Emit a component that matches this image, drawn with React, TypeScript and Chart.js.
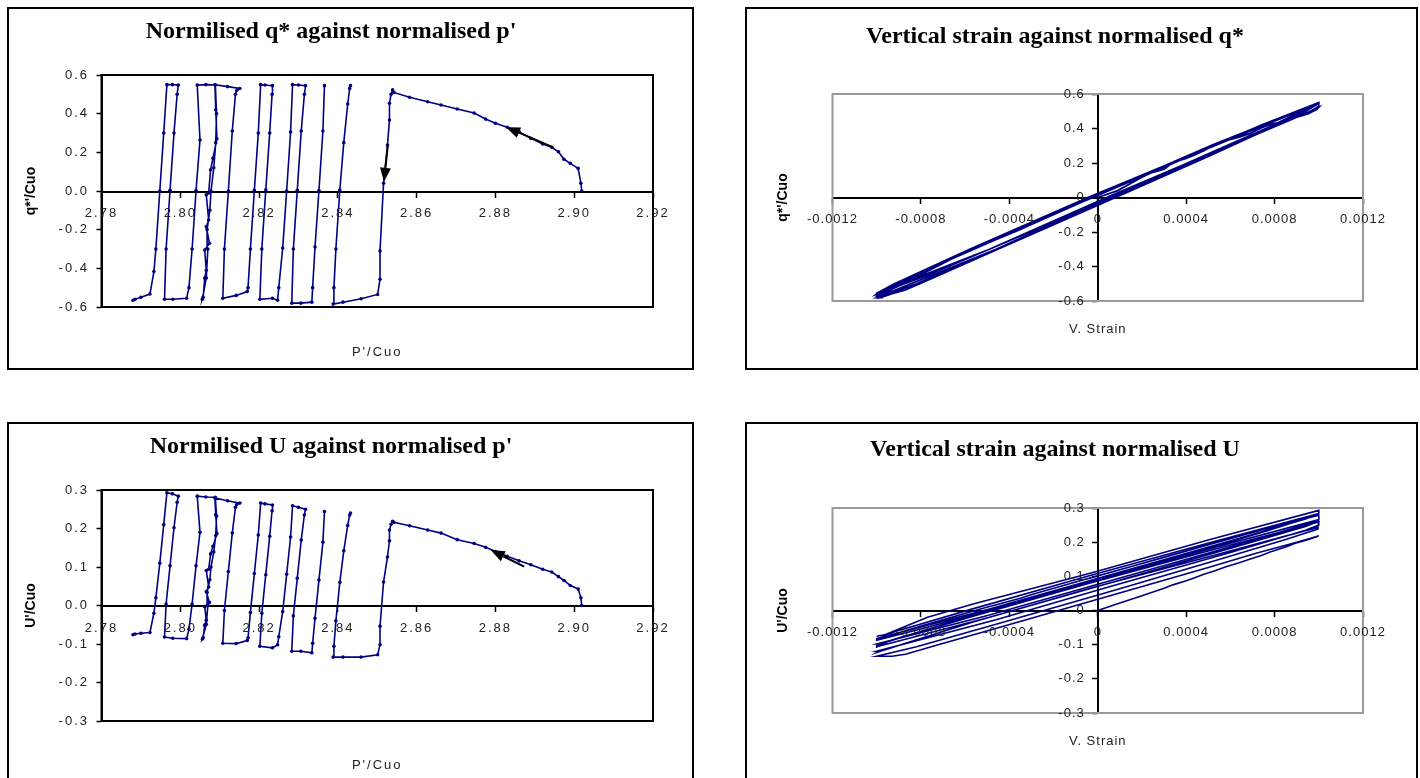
import React, { useEffect, useRef } from "react";
import { Chart, registerables } from "chart.js";

Chart.register(...registerables);

// ---- Test record (time order): vertical strain, normalised p', normalised q*, normalised U ----
const strain = [
  0, 0.00009, 0.0002, 0.00024, 0.0003, 0.00034, 0.0004, 0.00043, 0.00048, 0.00053, 0.00058, 0.00064, 0.00069, 0.00074, 0.00078, 0.00086, 0.00089, 0.00095, 0.00099, 0.001,
  0.00096, 0.00088, 0.00072, 0.0005, 0.00015, -0.00047, -0.00073, -0.00087,
  -0.00093, -0.00097, -0.001,
  -0.00082, -0.00046, 0.00008, 0.00051, 0.00085, 0.00098, 0.001,
  null,
  0.001, 0.00054, -0.00003, -0.00056, -0.00088, -0.001,
  -0.00099, -0.001,
  -0.00046, 0.00006, 0.0006, 0.00094, 0.001,
  0.001, 0.001,
  0.00052, -0.00003, -0.00056, -0.0009, -0.001,
  -0.001, -0.001,
  -0.00049, 0.00005, 0.00059, 0.00094, 0.001,
  0.001, 0.001,
  0.00052, -0.00004, -0.00058, -0.00092, -0.00095,
  -0.00097, -0.001,
  -0.00049, 0.00006, 0.00061, 0.00096, 0.00099, 0.001,
  0.001, 0.001,
  0.00074, 0.00047, 0.00029, 0.00018, -0.00004, -0.00006, -0.00029, -0.00035, -0.00051, -0.00057, -0.00076, -0.00083, -0.00099, -0.001,
  -0.00077, -0.00049, -0.00031, -0.00013, 0.00005, 0.00027, 0.0005, 0.00076, 0.001,
  0.001, 0.001,
  0.00046, -0.00003, -0.00057, -0.00092, -0.001,
  -0.001, -0.001,
  -0.00049, 0.00005, 0.00059, 0.00094, 0.001,
  0.001, 0.001,
  0.00052, -0.00003, -0.00056, -0.00077, -0.00096,
  -0.00097, -0.00099, -0.001,
];

const pPrime = [
  2.9019, 2.9017, 2.901, 2.899, 2.8974, 2.896, 2.8943, 2.892, 2.889, 2.886, 2.883, 2.88, 2.8775, 2.8746, 2.8703, 2.8662, 2.8628, 2.8582, 2.8542, 2.8539,
  2.8535, 2.8531, 2.8531, 2.8526, 2.8516, 2.8507, 2.8507, 2.8501,
  2.8459, 2.8413, 2.8388,
  2.839, 2.8395, 2.8405, 2.8415, 2.8425, 2.843, 2.8432,
  null,
  2.8366, 2.8362, 2.8352, 2.8342, 2.8336, 2.8334,
  2.8306, 2.8283,
  2.8287, 2.8297, 2.8307, 2.8315, 2.8318,
  2.83, 2.8285,
  2.828, 2.827, 2.826, 2.825, 2.8247,
  2.8234, 2.8202,
  2.8207, 2.8217, 2.8227, 2.8233, 2.8234,
  2.8215, 2.8204,
  2.8198, 2.8188, 2.8178, 2.8172, 2.817,
  2.8142, 2.8108,
  2.8112, 2.8122, 2.8132, 2.814, 2.8143, 2.8151,
  2.812, 2.8088,
  2.809, 2.8093, 2.8083, 2.8077, 2.8072, 2.8066, 2.8072, 2.8066, 2.8074, 2.8062, 2.8066, 2.8062, 2.8058, 2.8056,
  2.8066, 2.807, 2.8068, 2.8075, 2.8078, 2.8085, 2.809, 2.8092, 2.8089,
  2.8065, 2.8043,
  2.805, 2.804, 2.803, 2.8022, 2.8016,
  2.7981, 2.796,
  2.7964, 2.7974, 2.7984, 2.7992, 2.7995,
  2.798, 2.7966,
  2.7958, 2.7948, 2.7938, 2.7933, 2.7923,
  2.79, 2.7885, 2.788,
];

const qNorm = [
  0, 0.04, 0.117, 0.143, 0.164, 0.203, 0.226, 0.243, 0.272, 0.307, 0.33, 0.35, 0.372, 0.403, 0.424, 0.445, 0.462, 0.485, 0.51, 0.523,
  0.5, 0.454, 0.367, 0.238, 0.04, -0.31, -0.457, -0.535,
  -0.557, -0.575, -0.585,
  -0.5, -0.3, 0.005, 0.25, 0.45, 0.53, 0.545,
  null,
  0.545, 0.31, 0.002, -0.29, -0.5, -0.575,
  -0.58, -0.58,
  -0.3, 0.004, 0.31, 0.5, 0.545,
  0.548, 0.55,
  0.305, 0, -0.295, -0.5, -0.565,
  -0.555, -0.56,
  -0.3, 0.006, 0.3, 0.5, 0.545,
  0.548, 0.55,
  0.3, 0.003, -0.3, -0.5, -0.52,
  -0.54, -0.555,
  -0.3, 0, 0.31, 0.5, 0.52, 0.53,
  0.54, 0.55,
  0.42, 0.27, 0.17, 0.11, -0.01, -0.02, -0.15, -0.185, -0.27, -0.305, -0.41, -0.45, -0.55, -0.56,
  -0.45, -0.3, -0.2, -0.1, 0, 0.12, 0.25, 0.4, 0.548,
  0.55, 0.548,
  0.264, 0.002, -0.3, -0.5, -0.555,
  -0.56, -0.56,
  -0.3, 0.004, 0.3, 0.5, 0.548,
  0.55, 0.55,
  0.3, 0, -0.3, -0.417, -0.533,
  -0.55, -0.56, -0.565,
];

const uNorm = [
  0, 0.02, 0.043, 0.052, 0.065, 0.075, 0.087, 0.094, 0.106, 0.116, 0.128, 0.14, 0.151, 0.161, 0.171, 0.188, 0.196, 0.207, 0.216, 0.219,
  0.211, 0.196, 0.168, 0.126, 0.061, -0.054, -0.102, -0.128,
  -0.134, -0.134, -0.134,
  -0.106, -0.04, 0.06, 0.142, 0.208, 0.235, 0.24,
  null,
  0.244, 0.164, 0.066, -0.033, -0.098, -0.123,
  -0.119, -0.119,
  -0.027, 0.071, 0.17, 0.235, 0.25,
  0.255, 0.259,
  0.178, 0.081, -0.016, -0.081, -0.102,
  -0.11, -0.106,
  -0.02, 0.08, 0.18, 0.246, 0.261,
  0.264, 0.266,
  0.183, 0.083, -0.018, -0.084, -0.091,
  -0.099, -0.098,
  -0.013, 0.088, 0.188, 0.255, 0.262, 0.266,
  0.272, 0.279,
  0.236, 0.187, 0.154, 0.134, 0.094, 0.091, 0.048, 0.036, 0.008, -0.003, -0.038, -0.051, -0.084, -0.087,
  -0.049, 0.001, 0.034, 0.067, 0.1, 0.139, 0.182, 0.232, 0.281,
  0.282, 0.284,
  0.19, 0.103, 0.004, -0.062, -0.086,
  -0.085, -0.082,
  0.004, 0.103, 0.202, 0.268, 0.284,
  0.29, 0.293,
  0.21, 0.11, 0.02, -0.02, -0.07,
  -0.072, -0.074, -0.076,
];

// ---- Ticks ----
const pTicks = [2.78, 2.8, 2.82, 2.84, 2.86, 2.88, 2.9, 2.92];
const pTickLabels = ["2.78", "2.80", "2.82", "2.84", "2.86", "2.88", "2.90", "2.92"];
const strainTicks = [-0.0012, -0.0008, -0.0004, 0, 0.0004, 0.0008, 0.0012];
const strainTickLabels = ["-0.0012", "-0.0008", "-0.0004", "0", "0.0004", "0.0008", "0.0012"];
const qTicks = [-0.6, -0.4, -0.2, 0, 0.2, 0.4, 0.6];
const qTickLabelsP = ["-0.6", "-0.4", "-0.2", "0.0", "0.2", "0.4", "0.6"];
const qTickLabelsS = ["-0.6", "-0.4", "-0.2", "0", "0.2", "0.4", "0.6"];
const uTicks = [-0.3, -0.2, -0.1, 0, 0.1, 0.2, 0.3];
const uTickLabelsP = ["-0.3", "-0.2", "-0.1", "0.0", "0.1", "0.2", "0.3"];
const uTickLabelsS = ["-0.3", "-0.2", "-0.1", "0", "0.1", "0.2", "0.3"];

// ---- Direction arrows (data coordinates) ----
const qArrowFromP = [2.8947, 2.8527];
const qArrowFromQ = [0.226, 0.238];
const qArrowToP = [2.8827, 2.8517];
const qArrowToQ = [0.33, 0.048];
const uArrowFromP = [2.8873];
const uArrowFromU = [0.101];
const uArrowToP = [2.8788];
const uArrowToU = [0.144];

const SANS = "'Liberation Sans', Arial, sans-serif";
const SERIF = "'Liberation Serif', 'Times New Roman', serif";
const NAVY = "#000080";

const spacingPlugin = {
  id: "spacing",
  beforeDraw(chart: any) {
    chart.ctx.letterSpacing = "0px";
  },
  afterDatasetsDraw(chart: any, _a: any, opts: any) {
    chart.ctx.letterSpacing = (opts && opts.value) || "0px";
  },
  afterDraw(chart: any) {
    chart.ctx.letterSpacing = "0px";
  },
};

const framePlugin = {
  id: "frame",
  beforeDatasetsDraw(chart: any, _a: any, opts: any) {
    const { ctx, chartArea: a } = chart;
    ctx.save();
    ctx.strokeStyle = opts.color;
    ctx.lineWidth = opts.width;
    ctx.strokeRect(a.left, a.top, a.right - a.left, a.bottom - a.top);
    ctx.restore();
  },
};

const arrowPlugin = {
  id: "arrows",
  afterDatasetsDraw(chart: any, _a: any, opts: any) {
    const list = (opts && opts.list) || [];
    if (!list.length) return;
    const { ctx } = chart;
    const xs = chart.scales.x;
    const ys = chart.scales.y;
    ctx.save();
    ctx.strokeStyle = "#000";
    ctx.fillStyle = "#000";
    ctx.lineWidth = 2;
    for (const a of list) {
      const x1 = xs.getPixelForValue(a.x1);
      const y1 = ys.getPixelForValue(a.y1);
      const x2 = xs.getPixelForValue(a.x2);
      const y2 = ys.getPixelForValue(a.y2);
      const ang = Math.atan2(y2 - y1, x2 - x1);
      const L = 14;
      const W = 5.5;
      const c = Math.cos(ang);
      const s = Math.sin(ang);
      const bx = x2 - L * c;
      const by = y2 - L * s;
      ctx.beginPath();
      ctx.moveTo(x1, y1);
      ctx.lineTo(bx, by);
      ctx.stroke();
      ctx.beginPath();
      ctx.moveTo(x2, y2);
      ctx.lineTo(bx - W * s, by + W * c);
      ctx.lineTo(bx + W * s, by - W * c);
      ctx.closePath();
      ctx.fill();
    }
    ctx.restore();
  },
};

function buildConfig(s: any) {
  const data = s.xs.map((x: any, i: number) => ({ x, y: s.ys[i] }));
  const tickFont = { family: SANS, size: 13 };
  const yTitle = {
    display: true,
    text: s.yTitle,
    font: { family: SANS, size: 14, weight: "bold" },
    color: "#000",
    padding: { top: s.yTitlePad, bottom: 0 },
  };
  const gridOpts = {
    display: true,
    drawOnChartArea: false,
    drawTicks: true,
    tickLength: 5,
    tickColor: "#000",
    tickWidth: 1.5,
  };
  const scales: any = {
    x: {
      type: "linear",
      position: "center",
      min: s.xMin,
      max: s.xMax,
      afterBuildTicks: (sc: any) => {
        sc.ticks = s.xTicks.map((v: number) => ({ value: v }));
      },
      ticks: {
        autoSkip: false,
        maxRotation: 0,
        font: tickFont,
        color: "#222",
        padding: s.xTickPad,
        z: 1,
        callback: (_v: any, i: number) => s.xLabels[i],
      },
      grid: gridOpts,
      border: { display: true, color: "#000", width: 2 },
    },
    y: {
      type: "linear",
      position: s.yCenter ? "center" : "left",
      min: s.yMin,
      max: s.yMax,
      afterBuildTicks: (sc: any) => {
        sc.ticks = s.yTicks.map((v: number) => ({ value: v }));
      },
      ticks: {
        autoSkip: false,
        font: tickFont,
        color: "#222",
        padding: s.yTickPad,
        z: 1,
        callback: (_v: any, i: number) => s.yLabels[i],
      },
      grid: gridOpts,
      border: { display: true, color: "#000", width: 2 },
    },
    xt: {
      type: "linear",
      position: "bottom",
      display: true,
      afterFit: (sc: any) => {
        sc.height = s.bottomHeight;
      },
      ticks: { display: false },
      grid: { display: false, drawTicks: false, z: 1 },
      border: { display: false },
      title: {
        display: true,
        text: s.xTitle,
        font: { family: SANS, size: 13 },
        color: "#222",
        padding: { top: 0, bottom: s.xTitlePad },
      },
    },
  };
  if (s.yCenter) {
    scales.yt = {
      type: "linear",
      position: "left",
      display: true,
      afterFit: (sc: any) => {
        sc.width = s.leftWidth;
      },
      ticks: { display: false },
      grid: { display: false, drawTicks: false },
      border: { display: false },
      title: yTitle,
    };
  } else {
    scales.y.afterFit = (sc: any) => {
      sc.width = s.leftWidth;
    };
    scales.y.title = yTitle;
  }
  return {
    type: "line",
    data: {
      datasets: [
        {
          data,
          borderColor: NAVY,
          backgroundColor: NAVY,
          borderWidth: s.lineWidth,
          pointRadius: s.markers ? 1.8 : 0,
          pointBorderWidth: 0,
          pointBackgroundColor: NAVY,
          tension: 0,
          spanGaps: false,
          fill: false,
        },
      ],
    },
    options: {
      responsive: false,
      animation: false,
      devicePixelRatio: 1,
      layout: { padding: { left: 0, top: 0, right: s.rightPad, bottom: 0 } },
      scales,
      plugins: {
        legend: { display: false },
        tooltip: { enabled: false },
        title: {
          display: true,
          text: s.title,
          color: "#000",
          font: { family: SERIF, size: 24, weight: "bold" },
          padding: { top: s.titlePadTop, bottom: s.titlePadBottom },
        },
        spacing: { value: s.spacing },
        frame: { color: s.frameColor, width: 2 },
        arrows: { list: s.arrows },
      },
    },
    plugins: [spacingPlugin, framePlugin, arrowPlugin],
  };
}

const qArrows = qArrowFromP.map((_, i) => ({ x1: qArrowFromP[i], y1: qArrowFromQ[i], x2: qArrowToP[i], y2: qArrowToQ[i] }));
const uArrows = uArrowFromP.map((_, i) => ({ x1: uArrowFromP[i], y1: uArrowFromU[i], x2: uArrowToP[i], y2: uArrowToU[i] }));

const panels = [
  {
    key: "pq",
    left: 7, top: 7, w: 683, h: 359,
    title: "Normilised q* against normalised p'",
    titlePadTop: 8, titlePadBottom: 29.2,
    xs: pPrime, ys: qNorm,
    xMin: 2.78, xMax: 2.92, xTicks: pTicks, xLabels: pTickLabels,
    yMin: -0.6, yMax: 0.6, yTicks: qTicks, yLabels: qTickLabelsP,
    xTitle: "P'/Cuo", bottomHeight: 61, xTitlePad: 8,
    yTitle: "q*'/Cuo", leftWidth: 92.5, yTitlePad: 14,
    rightPad: 39, yCenter: false, xTickPad: 10, yTickPad: 7.5,
    frameColor: "#000", markers: true, spacing: "2px", arrows: qArrows, lineWidth: 1.6,
  },
  {
    key: "eq",
    left: 745, top: 7, w: 669, h: 359,
    title: "Vertical strain against normalised q*",
    titlePadTop: 13.6, titlePadBottom: 42.6,
    xs: strain, ys: qNorm,
    xMin: -0.0012, xMax: 0.0012, xTicks: strainTicks, xLabels: strainTickLabels,
    yMin: -0.6, yMax: 0.6, yTicks: qTicks, yLabels: qTickLabelsS,
    xTitle: "V. Strain", bottomHeight: 67, xTitlePad: 31.2,
    yTitle: "q*'/Cuo", leftWidth: 85.5, yTitlePad: 28.1,
    rightPad: 53, yCenter: true, xTickPad: 9, yTickPad: 8,
    frameColor: "#9a9a9a", markers: false, spacing: "1px", arrows: [], lineWidth: 1.8,
  },
  {
    key: "pu",
    left: 7, top: 422, w: 683, h: 359,
    title: "Normilised U against normalised p'",
    titlePadTop: 8.3, titlePadBottom: 28.9,
    xs: pPrime, ys: uNorm,
    xMin: 2.78, xMax: 2.92, xTicks: pTicks, xLabels: pTickLabels,
    yMin: -0.3, yMax: 0.3, yTicks: uTicks, yLabels: uTickLabelsP,
    xTitle: "P'/Cuo", bottomHeight: 62, xTitlePad: 10.2,
    yTitle: "U'/Cuo", leftWidth: 92.5, yTitlePad: 14,
    rightPad: 39, yCenter: false, xTickPad: 10, yTickPad: 7.5,
    frameColor: "#000", markers: true, spacing: "2px", arrows: uArrows, lineWidth: 1.6,
  },
  {
    key: "eu",
    left: 745, top: 422, w: 669, h: 359,
    title: "Vertical strain against normalised U",
    titlePadTop: 11.6, titlePadBottom: 43.6,
    xs: strain, ys: uNorm,
    xMin: -0.0012, xMax: 0.0012, xTicks: strainTicks, xLabels: strainTickLabels,
    yMin: -0.3, yMax: 0.3, yTicks: uTicks, yLabels: uTickLabelsS,
    xTitle: "V. Strain", bottomHeight: 70, xTitlePad: 34.2,
    yTitle: "U'/Cuo", leftWidth: 85.5, yTitlePad: 28.1,
    rightPad: 53, yCenter: true, xTickPad: 8.8, yTickPad: 8,
    frameColor: "#9a9a9a", markers: false, spacing: "1px", arrows: [], lineWidth: 1.6,
  },
];

function Panel({ spec }: { spec: any }) {
  const ref = useRef<HTMLCanvasElement | null>(null);
  useEffect(() => {
    const chart = new Chart(ref.current as HTMLCanvasElement, buildConfig(spec) as any);
    return () => chart.destroy();
  }, [spec]);
  return (
    <div
      style={{
        position: "absolute",
        left: spec.left,
        top: spec.top,
        width: spec.w + 4,
        height: spec.h + 4,
        border: "2px solid #000",
        boxSizing: "border-box",
        background: "#fff",
      }}
    >
      <canvas ref={ref} width={spec.w} height={spec.h} style={{ display: "block", width: spec.w, height: spec.h }} />
    </div>
  );
}

export default function App() {
  return (
    <div
      style={{
        position: "fixed",
        left: 0,
        top: 0,
        width: 1420,
        height: 778,
        overflow: "hidden",
        background: "#fff",
      }}
    >
      {panels.map((p) => (
        <Panel key={p.key} spec={p} />
      ))}
    </div>
  );
}
